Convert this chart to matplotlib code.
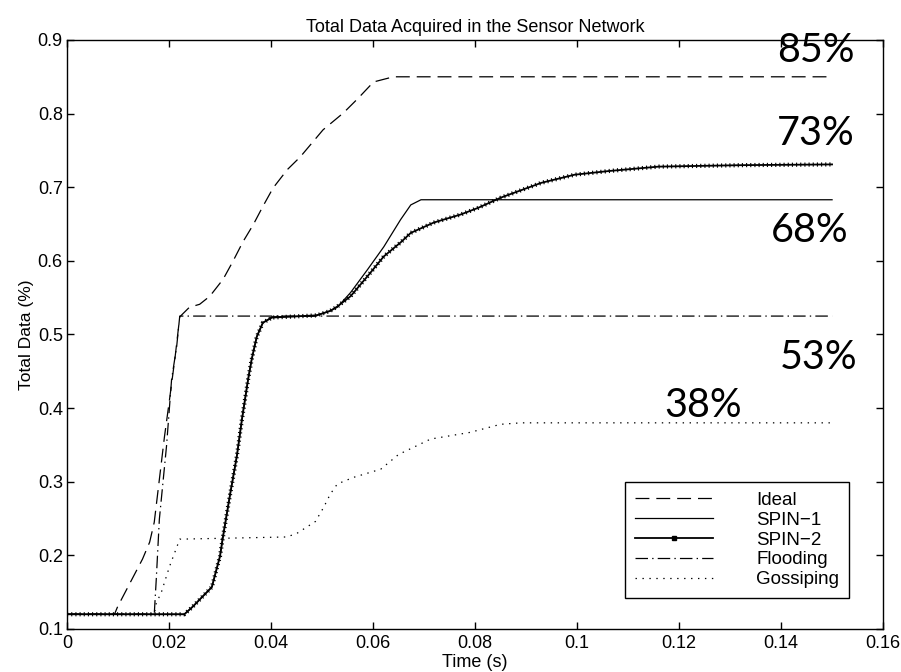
import matplotlib.pyplot as plt
from matplotlib.lines import Line2D

plt.rcParams['font.family'] = ['Liberation Sans', 'DejaVu Sans']
plt.rcParams['lines.scale_dashes'] = False

# data
ideal_x = [0, 0.0093, 0.0099, 0.0148, 0.0162, 0.0171, 0.0181, 0.0191, 0.0201, 0.0212, 0.0221,
           0.024, 0.026, 0.028, 0.0306, 0.0325, 0.0345, 0.0365, 0.0384, 0.0404, 0.0432, 0.0457,
           0.0502, 0.0542, 0.0571, 0.0601, 0.064, 0.15]
ideal_y = [0.12, 0.12, 0.13, 0.195, 0.218, 0.245, 0.303, 0.361, 0.412, 0.47, 0.524,
           0.537, 0.541, 0.552, 0.575, 0.599, 0.626, 0.649, 0.674, 0.699, 0.724, 0.741,
           0.778, 0.801, 0.821, 0.843, 0.85, 0.85]

spin1_x = [0, 0.023, 0.0246, 0.0284, 0.030, 0.0305, 0.0319, 0.0333, 0.0343, 0.0355, 0.0362,
           0.0372, 0.0384, 0.0402, 0.0483, 0.0516, 0.053, 0.0556, 0.0589, 0.0621, 0.0654,
           0.0674, 0.0694, 0.15]
spin1_y = [0.12, 0.12, 0.13, 0.157, 0.199, 0.222, 0.28, 0.335, 0.385, 0.439, 0.466,
           0.497, 0.516, 0.524, 0.525, 0.532, 0.537, 0.557, 0.588, 0.619, 0.656,
           0.676, 0.683, 0.683]

spin2_x = [0, 0.023, 0.0246, 0.0284, 0.030, 0.0305, 0.0319, 0.0333, 0.0343, 0.0355, 0.0362,
           0.0372, 0.0384, 0.0402, 0.049, 0.0516, 0.053, 0.0556, 0.0589, 0.0621, 0.0654,
           0.0674, 0.0719, 0.0772, 0.0806, 0.0851, 0.093, 0.0995, 0.1062, 0.116, 0.1324, 0.15]
spin2_y = [0.12, 0.12, 0.13, 0.157, 0.199, 0.222, 0.28, 0.335, 0.385, 0.439, 0.466,
           0.497, 0.516, 0.523, 0.526, 0.532, 0.538, 0.552, 0.579, 0.606, 0.625,
           0.638, 0.652, 0.663, 0.672, 0.686, 0.706, 0.717, 0.722, 0.728, 0.730, 0.731]

flood_x = [0, 0.0171, 0.0175, 0.0181, 0.0195, 0.0205, 0.0215, 0.0221, 0.15]
flood_y = [0.12, 0.12, 0.168, 0.249, 0.348, 0.439, 0.484, 0.525, 0.525]

gossip_x = [0, 0.0171, 0.0175, 0.0185, 0.0201, 0.0221, 0.0431, 0.0451, 0.0487, 0.0503, 0.0516,
            0.053, 0.0562, 0.0615, 0.065, 0.0713, 0.079, 0.085, 0.089, 0.15]
gossip_y = [0.12, 0.12, 0.135, 0.15, 0.185, 0.222, 0.225, 0.23, 0.246, 0.265, 0.283,
            0.297, 0.306, 0.317, 0.337, 0.358, 0.367, 0.378, 0.38, 0.38]

labels = ['Ideal', 'SPIN\u22121', 'SPIN\u22122', 'Flooding', 'Gossiping']
pct_text = ['85%', '73%', '68%', '53%', '38%']
pct_x = [0.1469, 0.1468, 0.1456, 0.1474, 0.1247]
pct_y = [0.870, 0.7576, 0.626, 0.4525, 0.3875]

fig = plt.figure(figsize=(9.01, 6.72), dpi=100)
ax = fig.add_axes([0.0744, 0.064, 0.9057, 0.8765])

lw = 0.9
dash = (0, (10, 5))
dashdot = (0, (9, 3, 1, 3))
dot = (0, (1, 4))
ax.plot(ideal_x, ideal_y, color='k', lw=lw, linestyle=dash)
ax.plot(spin1_x, spin1_y, color='k', lw=lw)
ax.plot(spin2_x, spin2_y, color='k', lw=1.3)
# small point markers along SPIN-2
ax.plot(spin2_x, spin2_y, color='k', lw=3.0, linestyle=(0, (0.8, 2.2)))
ax.plot(flood_x, flood_y, color='k', lw=lw, linestyle=dashdot)
ax.plot(gossip_x, gossip_y, color='k', lw=lw, linestyle=dot)

ax.set_xlim(0, 0.16)
ax.set_ylim(0.1, 0.9)
ax.set_xticks([0, 0.02, 0.04, 0.06, 0.08, 0.1, 0.12, 0.14, 0.16])
ax.set_xticklabels(['0', '0.02', '0.04', '0.06', '0.08', '0.1', '0.12', '0.14', '0.16'])
ax.set_yticks([0.1, 0.2, 0.3, 0.4, 0.5, 0.6, 0.7, 0.8, 0.9])
ax.set_yticklabels(['0.1', '0.2', '0.3', '0.4', '0.5', '0.6', '0.7', '0.8', '0.9'])
ax.tick_params(direction='in', top=True, right=True, length=5, width=1, labelsize=13)
ax.tick_params(axis='x', pad=4)
ax.tick_params(axis='y', pad=3)
for s in ax.spines.values():
    s.set_linewidth(1.0)

ax.set_title('Total Data Acquired in the Sensor Network', fontsize=13, pad=6)
ax.set_xlabel('Time (s)', fontsize=13, labelpad=2)
ax.set_ylabel('Total Data (%)', fontsize=12.5, labelpad=3)

handles = [
    Line2D([], [], color='k', lw=lw, linestyle=dash),
    Line2D([], [], color='k', lw=lw),
    Line2D([], [], color='k', lw=1.3, marker='s', markersize=3),
    Line2D([], [], color='k', lw=lw, linestyle=dashdot),
    Line2D([], [], color='k', lw=lw, linestyle=dot),
]
leg = ax.legend(handles, labels, loc='lower right', bbox_to_anchor=(0.958, 0.053),
                fontsize=13.5, handlelength=4.2, handletextpad=2.3, labelspacing=0.15,
                fancybox=False, edgecolor='k', framealpha=1, borderpad=0.5,
                borderaxespad=0)
leg.get_frame().set_linewidth(1.0)

for t, x, y in zip(pct_text, pct_x, pct_y):
    ax.text(x, y, t, ha='center', va='baseline', fontsize=28.5, family=['Lato', 'DejaVu Sans'])

fig.savefig('out.png', dpi=100)
